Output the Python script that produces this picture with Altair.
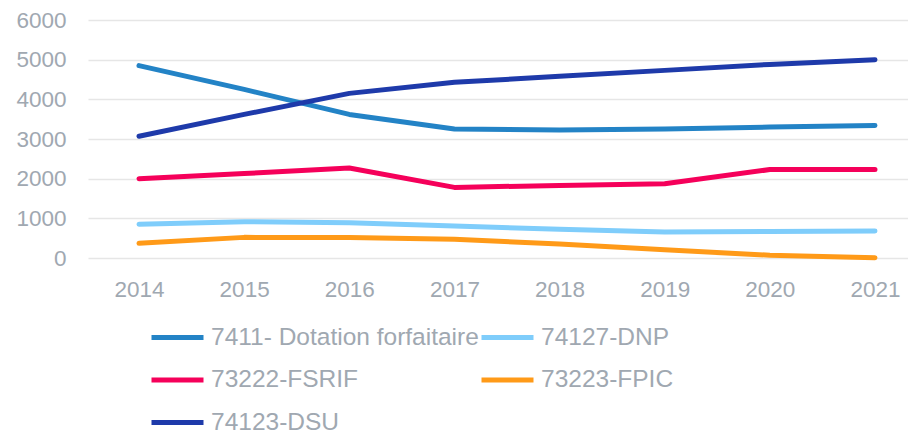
import altair as alt
import pandas as pd

years = [2014, 2015, 2016, 2017, 2018, 2019, 2020, 2021]
series_names = ["7411- Dotation forfaitaire", "74127-DNP", "73222-FSRIF", "73223-FPIC", "74123-DSU"]
dotation = [4850, 4250, 3620, 3250, 3230, 3250, 3300, 3340]
dnp = [850, 915, 890, 805, 725, 655, 670, 680]
fsrif = [2000, 2130, 2270, 1780, 1830, 1870, 2230, 2230]
fpic = [370, 520, 515, 475, 350, 205, 70, 8]
dsu = [3070, 3620, 4150, 4430, 4580, 4730, 4880, 5000]
colors = ["#2383C6", "#7FCDFB", "#F5005A", "#FF9A18", "#1E3AAA"]

values = [dotation, dnp, fsrif, fpic, dsu]
rows = []
for name, vals in zip(series_names, values):
    for y, v in zip(years, vals):
        rows.append({"year": y, "value": v, "series": name})
df = pd.DataFrame(rows)

text_color = "#A0A8B1"

chart = alt.Chart(df).mark_line(strokeWidth=5, strokeCap="round", strokeJoin="round").encode(
    x=alt.X("year:Q",
            scale=alt.Scale(domain=[2013.515, 2021.314], nice=False, zero=False),
            axis=alt.Axis(values=years, format="d", title=None, domain=False, ticks=False,
                          grid=False, labelPadding=20, labelFontSize=22.5,
                          labelColor=text_color, labelFont="Liberation Sans")),
    y=alt.Y("value:Q",
            scale=alt.Scale(domain=[0, 6000], nice=False),
            axis=alt.Axis(values=[0, 1000, 2000, 3000, 4000, 5000, 6000], format="d", title=None,
                          domain=False, ticks=False, grid=True, gridColor="#E6E6E6",
                          gridWidth=1.5, labelPadding=22, labelFontSize=22.5,
                          labelColor=text_color, labelFont="Liberation Sans")),
    color=alt.Color("series:N",
                    scale=alt.Scale(domain=series_names, range=colors),
                    sort=series_names,
                    legend=alt.Legend(title=None, orient="none", legendX=61, legendY=289,
                                      direction="horizontal",
                                      columns=2, symbolType="stroke", symbolSize=2704,
                                      symbolStrokeWidth=5, labelFontSize=24.5,
                                      labelColor=text_color, labelFont="Liberation Sans",
                                      labelOffset=5, rowPadding=2.5, columnPadding=-10,
                                      padding=0, labelLimit=400)),
    order=alt.Order("year:Q"),
).properties(
    width=820,
    height=238,
    autosize=alt.AutoSizeParams(type="none"),
    padding={"left": 80, "top": 12, "right": 0, "bottom": 182},
).configure_view(stroke=None)

chart.save("out.html", embed_options={"renderer": "svg", "actions": False})
